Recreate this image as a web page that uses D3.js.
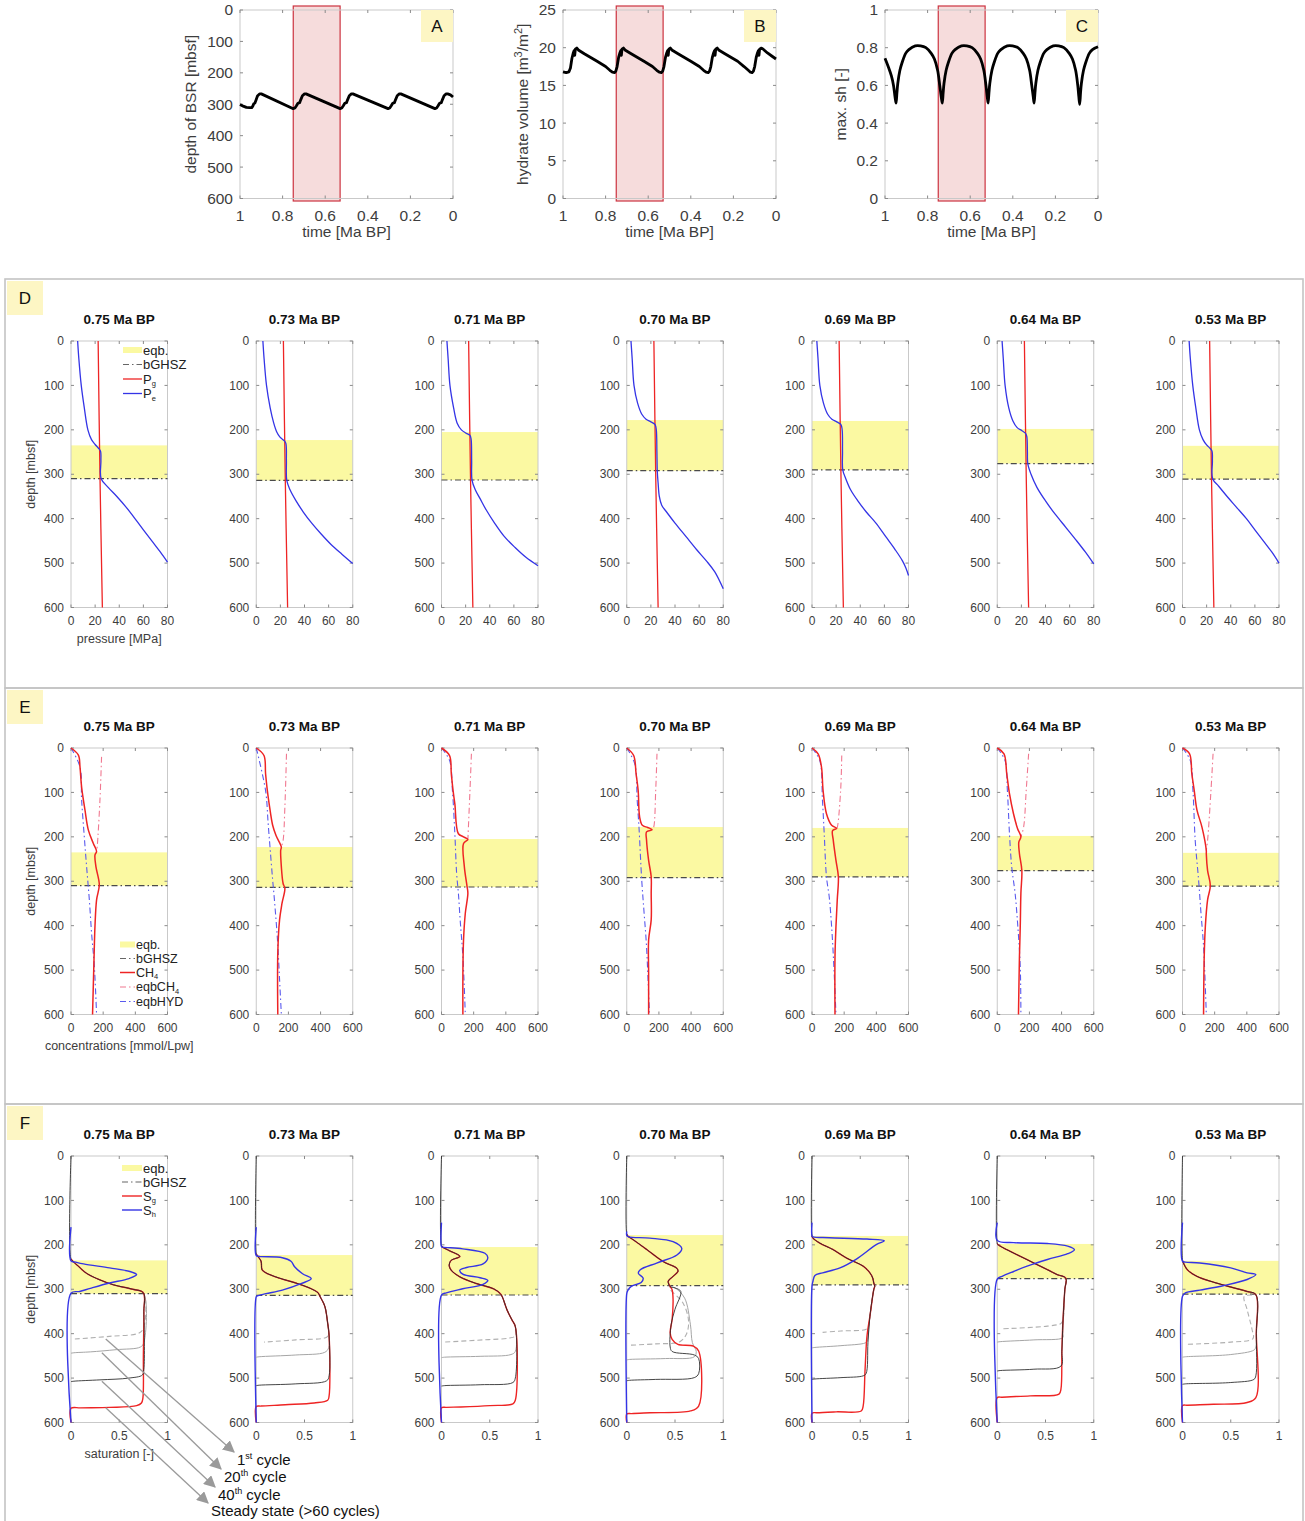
<!DOCTYPE html>
<html>
<head>
<meta charset="utf-8">
<script src="https://cdn.jsdelivr.net/npm/d3@7"></script>
<style>
  body { margin: 0; background: #fff; }
  text { font-family: "Liberation Sans", Arial, Helvetica, sans-serif; }
</style>
</head>
<body>
<script>
// ---------- Time series (panels A–C) ----------
const timeTicks = [1, 0.8, 0.6, 0.4, 0.2, 0];
const bsrTicks = [0, 100, 200, 300, 400, 500, 600];
const volumeTicks = [0, 5, 10, 15, 20, 25];
const shTicks = [0, 0.2, 0.4, 0.6, 0.8, 1];
const highlightWindow = [0.75, 0.53];

// [time Ma BP, depth of BSR mbsf]
const bsrDepth = [
  [1.000,301],[0.985,306],[0.970,310],[0.955,311],[0.945,311],[0.940,306],[0.935,298],[0.930,296],[0.925,287],[0.918,274],[0.908,267],[0.900,267],
  [0.750,314],[0.742,312],[0.735,305],[0.728,297],[0.720,295],[0.715,286],[0.707,273],[0.697,267],[0.690,267],
  [0.530,314],[0.522,312],[0.515,305],[0.508,297],[0.500,295],[0.495,286],[0.487,273],[0.477,267],[0.470,267],
  [0.305,314],[0.297,312],[0.290,305],[0.283,297],[0.275,295],[0.270,286],[0.262,273],[0.252,267],[0.245,267],
  [0.085,314],[0.077,312],[0.070,305],[0.063,297],[0.055,295],[0.050,286],[0.042,273],[0.032,267],[0.025,267],
  [0.012,270],[0.000,277]
];

// [time Ma BP, hydrate volume m3/m2]
const hydrateVolume = [
  [1.000,16.8],[0.985,16.7],[0.972,16.8],[0.965,17.3],[0.958,18.6],[0.952,19.3],[0.948,19.6],[0.945,19.0],[0.942,19.8],[0.935,19.95],[0.928,19.7],
  [0.900,19.2],[0.840,18.2],[0.800,17.5],[0.780,17.0],[0.768,16.75],[0.758,16.7],[0.752,16.9],[0.746,17.5],[0.739,18.7],[0.733,19.3],[0.729,19.6],[0.726,19.0],[0.723,19.8],[0.716,19.95],[0.709,19.7],
  [0.680,19.2],[0.620,18.2],[0.580,17.5],[0.560,17.0],[0.548,16.75],[0.538,16.7],[0.532,16.9],[0.526,17.5],[0.519,18.7],[0.513,19.3],[0.509,19.6],[0.506,19.0],[0.503,19.8],[0.496,19.95],[0.489,19.7],
  [0.460,19.2],[0.400,18.2],[0.360,17.5],[0.340,17.0],[0.328,16.75],[0.318,16.7],[0.312,16.9],[0.306,17.5],[0.299,18.7],[0.293,19.3],[0.289,19.6],[0.286,19.0],[0.283,19.8],[0.276,19.95],[0.269,19.7],
  [0.240,19.2],[0.180,18.2],[0.150,17.5],[0.130,17.0],[0.120,16.75],[0.112,16.7],[0.106,16.9],[0.100,17.5],[0.093,18.7],[0.087,19.3],[0.083,19.6],[0.080,19.0],[0.077,19.8],[0.068,19.95],[0.060,19.8],
  [0.040,19.3],[0.020,18.9],[0.000,18.5]
];

// [time Ma BP, maximum hydrate saturation]
const maxSh = [
  [1.000,0.744],[0.985,0.70],[0.970,0.65],[0.960,0.60],[0.953,0.54],[0.948,0.506],
  [0.944,0.56],[0.940,0.61],[0.930,0.68],[0.920,0.72],[0.903,0.77],[0.888,0.79],[0.858,0.81],[0.833,0.81],[0.808,0.80],[0.783,0.77],[0.768,0.74],[0.753,0.68],[0.743,0.60],[0.736,0.54],[0.731,0.506],
  [0.727,0.56],[0.723,0.61],[0.713,0.68],[0.703,0.72],[0.686,0.77],[0.671,0.79],[0.641,0.81],[0.616,0.81],[0.591,0.80],[0.566,0.77],[0.551,0.74],[0.536,0.68],[0.526,0.60],[0.520,0.54],[0.516,0.506],
  [0.512,0.56],[0.508,0.61],[0.498,0.68],[0.488,0.72],[0.471,0.77],[0.456,0.79],[0.426,0.81],[0.401,0.81],[0.376,0.80],[0.351,0.77],[0.336,0.74],[0.321,0.68],[0.311,0.60],[0.304,0.54],[0.300,0.506],
  [0.296,0.56],[0.292,0.61],[0.282,0.68],[0.272,0.72],[0.255,0.77],[0.240,0.79],[0.210,0.81],[0.185,0.81],[0.160,0.80],[0.135,0.77],[0.120,0.74],[0.105,0.68],[0.095,0.60],[0.090,0.54],[0.086,0.50],
  [0.082,0.56],[0.078,0.61],[0.068,0.68],[0.058,0.72],[0.041,0.77],[0.026,0.79],[0.000,0.805]
];

// ---------- Depth profiles (panels D–F) ----------
const snapshots = ["0.75 Ma BP", "0.73 Ma BP", "0.71 Ma BP", "0.70 Ma BP", "0.69 Ma BP", "0.64 Ma BP", "0.53 Ma BP"];
const eqbTop = [235, 223, 205, 178, 180, 198, 236];   // top of equilibrium zone, mbsf
const bghsz  = [310, 314, 313, 292, 290, 276, 311];   // base of GHSZ, mbsf
const depthTicks = [0, 100, 200, 300, 400, 500, 600];
const pressureTicks = [0, 20, 40, 60, 80];
const concTicks = [0, 200, 400, 600];
const satTicks = [0, 0.5, 1];

// D: [pressure MPa, depth]
const gasPressure = [[22.5,0],[24,300],[26,600]];
const entryPressure = [
  [[5.5,0],[6.5,40],[8.5,100],[11,150],[14,200],[17,222],[20,233],[23,242],[24.5,248],[24.8,270],[25,310],[31,330],[38,350],[46,375],[53,400],[60,425],[67,450],[74,475],[80,498]],
  [[5.5,0],[6.5,40],[8.5,100],[11.5,150],[14.5,185],[17,205],[19.5,216],[23,224],[24.5,230],[25,270],[25.3,314],[28,335],[33,360],[39,385],[46,410],[54,435],[62,458],[71,480],[80,501]],
  [[4.5,0],[5.5,40],[7,100],[10,150],[13,185],[16.5,200],[20,207],[23.5,212],[24.5,220],[25,270],[25.3,313],[28,335],[32,355],[37,380],[44,410],[52,440],[61,465],[70,487],[80,506]],
  [[3.5,0],[4.5,40],[6,100],[9,140],[12.5,165],[16,176],[20,182],[23.5,188],[24.5,200],[25,250],[25.3,292],[26,320],[27,350],[29,370],[33,385],[40,410],[49,440],[58,470],[66,495],[73,520],[80,558]],
  [[4,0],[5,40],[6.5,100],[9.5,140],[13,165],[16.5,176],[20.5,182],[24,188],[25,200],[25.3,250],[25.5,290],[28,310],[32,335],[38,360],[45,385],[53,410],[61,440],[69,470],[75,495],[78,512],[80,528]],
  [[4,0],[5,40],[6.5,100],[9.5,150],[13,180],[16.5,195],[20.5,202],[23.5,208],[24.5,215],[25,250],[25.3,276],[28,300],[33,330],[40,360],[48,390],[57,420],[65,447],[73,475],[80,502]],
  [[5.5,0],[6.5,40],[8.5,100],[11,150],[14,200],[17,222],[20,234],[23,242],[24.5,248],[24.8,270],[25,310],[30,327],[37,350],[45,375],[53,400],[60,425],[67,450],[74,475],[80,500]]
];

// E: [concentration mmol/Lpw, depth]
const methaneConc = [
  [[0,0],[46,16],[56,43],[66,88],[87,140],[108,185],[139,215],[159,233],[149,241],[155,267],[176,308],[159,342],[149,402],[143,477],[134,600]],
  [[0,0],[48,17],[58,58],[69,96],[80,125],[102,174],[123,197],[156,223],[152,230],[156,267],[167,305],[178,316],[160,350],[145,387],[134,461],[134,600]],
  [[0,0],[50,17],[61,58],[72,96],[83,126],[105,193],[137,200],[164,206],[137,215],[142,267],[159,312],[164,327],[148,372],[137,432],[133,507],[133,600]],
  [[0,0],[43,17],[58,58],[71,96],[80,155],[97,174],[130,179],[158,184],[123,189],[123,207],[136,253],[152,290],[152,327],[152,387],[136,432],[136,507],[136,600]],
  [[0,0],[38,13],[59,43],[69,96],[90,148],[122,174],[153,181],[128,186],[132,207],[149,253],[164,290],[157,342],[149,402],[143,470],[143,600]],
  [[0,0],[42,13],[59,58],[76,103],[101,148],[126,181],[147,200],[134,212],[138,238],[153,276],[147,327],[143,402],[138,470],[132,600]],
  [[0,0],[44,13],[58,58],[73,96],[90,140],[121,178],[148,231],[148,238],[156,276],[173,310],[156,342],[142,402],[135,470],[131,600]]
];
const eqbMethane = [
  [[190,20],[180,117],[163,222],[159,233]],
  [[188,13],[178,133],[167,208],[156,223]],
  [[186,13],[177,96],[164,206]],
  [[188,13],[180,96],[167,179],[158,184]],
  [[185,17],[178,96],[157,179],[153,181]],
  [[195,13],[180,96],[164,178],[147,200]],
  [[190,13],[177,96],[156,208],[148,231]]
];
const eqbHydrate = [
  [[0,0],[56,43],[66,117],[81,192],[97,267],[114,342],[128,417],[145,491],[159,600]],
  [[0,0],[58,96],[74,170],[87,230],[102,297],[113,342],[132,432],[145,521],[156,600]],
  [[0,0],[50,28],[68,96],[83,193],[94,282],[105,327],[116,387],[133,470],[148,600]],
  [[0,0],[50,36],[65,118],[76,178],[93,297],[108,372],[123,447],[141,600]],
  [[0,0],[48,28],[65,118],[76,193],[90,290],[107,335],[122,402],[136,492],[149,600]],
  [[0,0],[48,28],[63,96],[76,193],[90,268],[111,327],[128,402],[143,492],[147,600]],
  [[0,0],[48,28],[65,96],[79,208],[100,297],[115,372],[131,447],[148,600]]
];

// F: [saturation, depth]
const hydrateSat = [
  [[0,160],[0,236],[0.05,239],[0.13,243],[0.4,252],[0.61,260],[0.68,267],[0.6,276],[0.4,286],[0.2,298],[0.09,305],[0,309],[0,600]],
  [[0,160],[0,224],[0.03,226],[0.27,229],[0.36,237],[0.40,250],[0.48,265],[0.57,276],[0.47,287],[0.27,302],[0.10,310],[0.01,315],[0,317],[0,600]],
  [[0,150],[0,204],[0.01,205],[0.22,209],[0.45,219],[0.48,229],[0.43,243],[0.26,251],[0.19,257],[0.22,266],[0.40,274],[0.48,280],[0.43,289],[0.22,299],[0.05,308],[0,313],[0,600]],
  [[0,170],[0,179],[0.02,182],[0.24,185],[0.48,193],[0.57,208],[0.52,223],[0.31,241],[0.14,256],[0.12,264],[0.17,275],[0.15,285],[0.05,293],[0.01,303],[0,310],[0,600]],
  [[0,150],[0,180],[0.01,182],[0.18,184],[0.57,187],[0.75,191],[0.67,199],[0.46,232],[0.29,252],[0.11,263],[0.03,269],[0.01,282],[0,293],[0,600]],
  [[0,150],[0,190],[0.17,195],[0.52,197],[0.73,203],[0.80,211],[0.73,220],[0.52,233],[0.31,248],[0.17,260],[0.05,271],[0,277],[0,600]],
  [[0,150],[0,237],[0.03,239],[0.18,241],[0.50,252],[0.67,263],[0.76,267],[0.67,278],[0.42,292],[0.18,302],[0.03,308],[0,316],[0,600]]
];
// gas saturation inside the stability zone, shared by every cycle
const gasSatZone = [
  [[0,232],[0.02,237],[0.08,249],[0.16,264],[0.30,279],[0.44,290],[0.64,300],[0.75,308]],
  [[0,220],[0.01,224],[0.05,237],[0.06,256],[0.10,263],[0.24,275],[0.41,286],[0.55,297],[0.64,308],[0.66,316],[0.71,338],[0.74,376],[0.755,405]],
  [[0,203],[0.01,205],[0.08,213],[0.19,226],[0.10,235],[0.08,246],[0.10,257],[0.19,272],[0.36,287],[0.54,299],[0.61,310],[0.63,317],[0.68,347],[0.73,369],[0.765,384]],
  [[0,176],[0.01,180],[0.07,189],[0.21,211],[0.38,238],[0.52,253],[0.53,260],[0.48,271],[0.43,282],[0.45,294]],
  [[0,180],[0.01,185],[0.08,196],[0.22,211],[0.36,230],[0.53,248],[0.60,263],[0.63,275],[0.64,286],[0.65,293]],
  [[0,197],[0.01,200],[0.10,211],[0.24,226],[0.38,241],[0.52,256],[0.62,267],[0.71,275]],
  [[0,235],[0.01,241],[0.05,256],[0.15,271],[0.32,284],[0.50,295],[0.67,305],[0.76,312]]
];
// gas saturation below the stability zone for each cycle
const gasSteady = [
  [[0.755,350],[0.75,450],[0.745,545],[0.73,556],[0.68,562],[0.4,566],[0.1,567],[0,568],[0,600]],
  [[0.755,540],[0.74,550],[0.6,556],[0.3,560],[0.05,563],[0,564],[0,600]],
  [[0.765,550],[0.74,558],[0.5,562],[0.2,565],[0.05,566],[0,567],[0,600]],
  [[0.47,301],[0.48,323],[0.47,368],[0.45,398],[0.47,413],[0.53,424],[0.69,428],[0.745,439],[0.745,563],[0.66,574],[0.24,578],[0.05,580],[0,581],[0,600]],
  [[0.64,301],[0.60,361],[0.57,405],[0.55,480],[0.53,563],[0.51,574],[0.25,576],[0.05,578],[0,579],[0,600]],
  [[0.70,301],[0.68,376],[0.67,435],[0.66,525],[0.64,536],[0.34,540],[0.05,543],[0,544],[0,600]],
  [[0.765,400],[0.76,544],[0.67,555],[0.32,559],[0.05,561],[0,562],[0,600]]
];
const gasCycle40 = [
  [[0.755,350],[0.755,480],[0.74,493],[0.6,500],[0.3,504],[0.03,507],[0,508]],
  [[0.755,495],[0.73,506],[0.41,513],[0.03,516],[0,517]],
  [[0.765,500],[0.74,510],[0.4,515],[0.03,517],[0,518]],
  [[0.5,297],[0.56,305],[0.50,345],[0.46,380],[0.45,430],[0.47,440],[0.70,448],[0.745,456],[0.745,490],[0.70,499],[0.3,503],[0.03,505],[0,506]],
  [[0.64,301],[0.60,361],[0.58,420],[0.56,490],[0.53,495],[0.3,499],[0.03,502],[0,503]],
  [[0.70,301],[0.68,376],[0.67,440],[0.66,473],[0.38,480],[0.03,483],[0,484]],
  [[0.765,400],[0.76,495],[0.74,503],[0.5,510],[0.03,513],[0,514]]
];
const gasCycle20 = [
  [[0.755,420],[0.72,430],[0.47,436],[0.2,441],[0.03,443],[0,444]],
  [[0.75,432],[0.71,442],[0.41,448],[0.03,452],[0,453]],
  [[0.765,440],[0.72,447],[0.4,451],[0.03,453],[0,454]],
  [[0.5,297],[0.6,320],[0.66,380],[0.68,420],[0.72,440],[0.70,452],[0.4,456],[0.03,458],[0,459]],
  [[0.64,301],[0.6,361],[0.57,417],[0.55,421],[0.3,427],[0.03,431],[0,432]],
  [[0.70,301],[0.68,400],[0.68,409],[0.38,414],[0.03,418],[0,419]],
  [[0.765,400],[0.76,430],[0.74,437],[0.5,447],[0.03,452],[0,453]]
];
const gasCycle1 = [
  [[0.755,385],[0.71,398],[0.40,406],[0.04,412]],
  [[0.75,400],[0.73,408],[0.41,414],[0.08,419]],
  [[0.765,405],[0.70,410],[0.43,414],[0.03,419]],
  [[0.45,300],[0.58,330],[0.64,370],[0.62,400],[0.55,418],[0.3,423],[0.03,426]],
  [[0.64,301],[0.6,361],[0.58,387],[0.55,391],[0.3,394],[0.11,397]],
  [[0.70,301],[0.68,370],[0.66,377],[0.52,383],[0.06,389]],
  [[0.64,316],[0.67,346],[0.72,390],[0.73,411],[0.5,419],[0.03,424]]
];

// ---------- styling ----------
const C = {
  red: "#ee2424", blue: "#3434e6", pink: "#f07890", dashBlue: "#5a5aee",
  yellow: "#fbf9a2", frame: "#c9c9c9", tick: "#8a8a8a", label: "#3d3d3d",
  tagFill: "#fdf6c4", section: "#c4c4c4", cycleGrey: "#a6a6a6", cycleDark: "#262626"
};
const DASHDOT = "6,3,1.5,3";

const svg = d3.select("body").append("svg")
  .attr("width", 1305).attr("height", 1521);

function drawFrame(g, x, y, xt, yt, o) {
  const [x0, x1] = x.range();
  const ys = y.range();
  const yTop = Math.min(...ys), yBot = Math.max(...ys);
  g.append("rect").attr("x", x0).attr("y", yTop).attr("width", x1 - x0).attr("height", yBot - yTop)
    .attr("fill", "none").attr("stroke", C.frame).attr("stroke-width", 1);
  const tl = o.tickLen;
  xt.forEach(v => {
    const px = x(v);
    g.append("line").attr("x1", px).attr("x2", px).attr("y1", yBot).attr("y2", yBot - tl).attr("stroke", C.tick);
    g.append("line").attr("x1", px).attr("x2", px).attr("y1", yTop).attr("y2", yTop + tl).attr("stroke", C.tick);
    g.append("text").attr("x", px).attr("y", yBot + o.xLabOff).attr("text-anchor", "middle")
      .attr("font-size", o.fs).attr("fill", C.label).text(String(v));
  });
  yt.forEach(v => {
    const py = y(v);
    g.append("line").attr("x1", x0).attr("x2", x0 + tl).attr("y1", py).attr("y2", py).attr("stroke", C.tick);
    g.append("line").attr("x1", x1).attr("x2", x1 - tl).attr("y1", py).attr("y2", py).attr("stroke", C.tick);
    g.append("text").attr("x", x0 - o.yLabOff).attr("y", py).attr("dy", "0.35em").attr("text-anchor", "end")
      .attr("font-size", o.fs).attr("fill", C.label).text(String(v));
  });
}

// ---------- panels A–C ----------
const topPanels = [
  { tag: "A", x0: 240, series: bsrDepth, yDom: [0, 600], yRange: [10, 198.5], yt: bsrTicks, ylab: ["depth of BSR [mbsf]"], ylabX: 196, curve: d3.curveLinear },
  { tag: "B", x0: 563, series: hydrateVolume, yDom: [0, 25], yRange: [198.5, 10], yt: volumeTicks, ylab: ["hydrate volume [m", ["3"], "/m", ["2"], "]"], ylabX: 528, curve: d3.curveLinear },
  { tag: "C", x0: 885, series: maxSh, yDom: [0, 1], yRange: [198.5, 10], yt: shTicks, ylab: ["max. sh [-]"], ylabX: 846, curve: d3.curveCatmullRom.alpha(0.5) }
];

topPanels.forEach(p => {
  const g = svg.append("g");
  const x = d3.scaleLinear().domain([1, 0]).range([p.x0, p.x0 + 213]);
  const y = d3.scaleLinear().domain(p.yDom).range(p.yRange);
  // highlighted time window
  g.append("rect")
    .attr("x", x(highlightWindow[0])).attr("width", x(highlightWindow[1]) - x(highlightWindow[0]))
    .attr("y", 6).attr("height", 195)
    .attr("fill", "#f6dcdc").attr("stroke", "#cc3340").attr("stroke-width", 1.2);
  drawFrame(g, x, y, timeTicks, p.yt, { tickLen: 3, xLabOff: 22, yLabOff: 7, fs: 15.5 });
  // panel tag
  const xr = x.range()[1];
  g.append("rect").attr("x", xr - 32).attr("y", 10).attr("width", 32).attr("height", 32).attr("fill", C.tagFill);
  g.append("text").attr("x", xr - 16).attr("y", 32).attr("text-anchor", "middle").attr("font-size", 17).attr("fill", "#111").text(p.tag);
  // series
  g.append("path").datum(p.series)
    .attr("d", d3.line().x(d => x(d[0])).y(d => y(d[1])).curve(p.curve))
    .attr("fill", "none").attr("stroke", "#000").attr("stroke-width", 2.8).attr("stroke-linejoin", "round");
  // axis titles
  const yl = g.append("text").attr("transform", `translate(${p.ylabX},${(p.yRange[0] + p.yRange[1]) / 2}) rotate(-90)`)
    .attr("text-anchor", "middle").attr("font-size", 15.5).attr("fill", C.label);
  let raised = false;
  p.ylab.forEach(part => {
    if (Array.isArray(part)) { yl.append("tspan").attr("dy", -6).attr("font-size", 11).text(part[0]); raised = true; }
    else { yl.append("tspan").attr("dy", raised ? 6 : 0).text(part); raised = false; }
  });
  g.append("text").attr("x", p.x0 + 106.5).attr("y", 237).attr("text-anchor", "middle")
    .attr("font-size", 15.5).attr("fill", C.label).text("time [Ma BP]");
});

// ---------- panels D–F ----------
const colLeft = snapshots.map((s, i) => 71 + 185.25 * i);
const PW = 96.5, PH = 266.5;
const sections = [
  { tag: "D", top: 341, dom: [0, 80], ticks: pressureTicks, xlab: "pressure [MPa]", boxY: 279, boxH: 409 },
  { tag: "E", top: 748, dom: [0, 600], ticks: concTicks, xlab: "concentrations [mmol/Lpw]", boxY: 688, boxH: 416 },
  { tag: "F", top: 1156, dom: [0, 1], ticks: satTicks, xlab: "saturation [-]", boxY: 1104, boxH: 430 }
];

const profileLine = (x, y) => d3.line().x(d => x(d[0])).y(d => y(d[1])).curve(d3.curveCatmullRom.alpha(0.5));

function addPath(g, data, gen, stroke, width, dash) {
  const p = g.append("path").datum(data).attr("d", gen).attr("fill", "none")
    .attr("stroke", stroke).attr("stroke-width", width).attr("stroke-linejoin", "round");
  if (dash) p.attr("stroke-dasharray", dash);
  return p;
}

function legend(g, x0, rows, fs) {
  rows.forEach(r => {
    const ln = g.append("line").attr("x1", x0).attr("x2", x0 + r.len).attr("y1", r.y).attr("y2", r.y)
      .attr("stroke", r.color).attr("stroke-width", r.width);
    if (r.dash) ln.attr("stroke-dasharray", r.dash);
    const t = g.append("text").attr("x", x0 + r.len + 1).attr("y", r.y).attr("dy", "0.35em")
      .attr("font-size", fs).attr("fill", "#222");
    t.append("tspan").text(r.text);
    if (r.sub) t.append("tspan").attr("font-size", 7.5).attr("dy", 2.5).text(r.sub);
  });
}

sections.forEach((s, si) => {
  const sg = svg.append("g");
  sg.append("rect").attr("x", 5).attr("y", s.boxY).attr("width", 1298).attr("height", s.boxH)
    .attr("fill", "none").attr("stroke", C.section).attr("stroke-width", 1.6);
  sg.append("rect").attr("x", 7).attr("y", s.boxY + 2).attr("width", 36).attr("height", 34).attr("fill", C.tagFill);
  sg.append("text").attr("x", 25).attr("y", s.boxY + 25).attr("text-anchor", "middle").attr("font-size", 17).attr("fill", "#111").text(s.tag);

  snapshots.forEach((label, i) => {
    const g = sg.append("g");
    const left = colLeft[i];
    const x = d3.scaleLinear().domain(s.dom).range([left, left + PW]);
    const y = d3.scaleLinear().domain([0, 600]).range([s.top, s.top + PH]);
    const line = profileLine(x, y);

    // equilibrium zone and base of GHSZ
    g.append("rect").attr("x", x(s.dom[0])).attr("width", x(s.dom[1]) - x(s.dom[0]))
      .attr("y", y(eqbTop[i])).attr("height", y(bghsz[i]) - y(eqbTop[i])).attr("fill", C.yellow);
    drawFrame(g, x, y, s.ticks, depthTicks, { tickLen: 3, xLabOff: 17, yLabOff: 7, fs: 12 });
    g.append("line").attr("x1", x(s.dom[0])).attr("x2", x(s.dom[1])).attr("y1", y(bghsz[i])).attr("y2", y(bghsz[i]))
      .attr("stroke", "#4a4a4a").attr("stroke-width", 1.2).attr("stroke-dasharray", DASHDOT);

    if (s.tag === "D") {
      addPath(g, gasPressure, line, C.red, 1.3);
      addPath(g, entryPressure[i], line, C.blue, 1.3);
    } else if (s.tag === "E") {
      addPath(g, eqbHydrate[i], line, C.dashBlue, 1.1, DASHDOT);
      addPath(g, eqbMethane[i], line, C.pink, 1.1, DASHDOT);
      addPath(g, methaneConc[i], line, C.red, 1.5);
    } else {
      const zone = gasSatZone[i];
      const surface = [[0, 0]];
      addPath(g, zone.concat(gasCycle1[i]), line, "#b0b0b0", 1.1, "5,3");
      addPath(g, zone.concat(gasCycle20[i]), line, C.cycleGrey, 1.0);
      addPath(g, zone.concat(gasSteady[i]), line, C.red, 1.4);
      addPath(g, surface.concat(zone, gasCycle40[i]), line, C.cycleDark, 1.0).attr("stroke-opacity", 0.85);
      addPath(g, hydrateSat[i], line, C.blue, 1.4);
    }

    g.append("text").attr("x", left + PW / 2).attr("y", s.top - 17).attr("text-anchor", "middle")
      .attr("font-size", 13.5).attr("font-weight", "bold").attr("fill", "#111").text(label);

    if (i === 0) {
      g.append("text").attr("transform", `translate(${left - 36},${s.top + PH / 2}) rotate(-90)`)
        .attr("text-anchor", "middle").attr("font-size", 12.5).attr("fill", C.label).text("depth [mbsf]");
      g.append("text").attr("x", left + PW / 2).attr("y", s.top + PH + 35).attr("text-anchor", "middle")
        .attr("font-size", 12.5).attr("fill", C.label).text(s.xlab);

      if (s.tag === "D") {
        legend(g, left + 52, [
          { y: s.top + 9, len: 19, color: C.yellow, width: 6, text: "eqb." },
          { y: s.top + 23.5, len: 19, color: "#666", width: 1.2, dash: DASHDOT, text: "bGHSZ" },
          { y: s.top + 38, len: 19, color: C.red, width: 1.3, text: "P", sub: "g" },
          { y: s.top + 52.5, len: 19, color: C.blue, width: 1.3, text: "P", sub: "e" }
        ], 13);
      } else if (s.tag === "E") {
        legend(g, left + 49, [
          { y: s.top + PH - 70, len: 15, color: C.yellow, width: 6, text: "eqb." },
          { y: s.top + PH - 56, len: 15, color: "#666", width: 1.2, dash: DASHDOT, text: "bGHSZ" },
          { y: s.top + PH - 42, len: 15, color: C.red, width: 1.5, text: "CH", sub: "4" },
          { y: s.top + PH - 27.5, len: 15, color: C.pink, width: 1.1, dash: DASHDOT, text: "eqbCH", sub: "4" },
          { y: s.top + PH - 13, len: 15, color: C.dashBlue, width: 1.1, dash: DASHDOT, text: "eqbHYD" }
        ], 12.5);
      } else {
        legend(g, left + 51, [
          { y: s.top + 12, len: 20, color: C.yellow, width: 6, text: "eqb." },
          { y: s.top + 26, len: 20, color: "#666", width: 1.2, dash: DASHDOT, text: "bGHSZ" },
          { y: s.top + 40, len: 20, color: C.red, width: 1.4, text: "S", sub: "g" },
          { y: s.top + 54, len: 20, color: C.blue, width: 1.4, text: "S", sub: "h" }
        ], 13);

        // call-outs linking the cycle curves to their names
        const defs = svg.append("defs");
        defs.append("marker").attr("id", "arrowHead").attr("viewBox", "0 0 10 10").attr("refX", 9).attr("refY", 5)
          .attr("markerWidth", 12).attr("markerHeight", 12).attr("markerUnits", "userSpaceOnUse").attr("orient", "auto")
          .append("path").attr("d", "M0,0 L10,5 L0,10 z").attr("fill", "#9a9a9a");
        const bottomOf = arr => d3.max(arr.filter(d => d[0] > 0.02), d => d[1]);
        const callouts = [
          { depth: bottomOf(gasCycle1[0]), sat: 0.36, tx: 237, ty: 1465, main: "1", sup: "st", rest: " cycle" },
          { depth: bottomOf(gasCycle20[0]), sat: 0.32, tx: 224, ty: 1482, main: "20", sup: "th", rest: " cycle" },
          { depth: bottomOf(gasCycle40[0]), sat: 0.32, tx: 218, ty: 1500, main: "40", sup: "th", rest: " cycle" },
          { depth: bottomOf(gasSteady[0]), sat: 0.36, tx: 211, ty: 1516, main: "Steady state (>60 cycles)", sup: "", rest: "" }
        ];
        callouts.forEach(c => {
          svg.append("line").attr("x1", x(c.sat)).attr("y1", y(c.depth)).attr("x2", c.tx - 3).attr("y2", c.ty - 13)
            .attr("stroke", "#9a9a9a").attr("stroke-width", 1.3).attr("marker-end", "url(#arrowHead)");
          const t = svg.append("text").attr("x", c.tx).attr("y", c.ty).attr("font-size", 15).attr("fill", "#111");
          t.append("tspan").text(c.main);
          if (c.sup) {
            t.append("tspan").attr("font-size", 9).attr("dy", -6).text(c.sup);
            t.append("tspan").attr("dy", 6).text(c.rest);
          }
        });
      }
    }
  });
});
</script>
</body>
</html>
